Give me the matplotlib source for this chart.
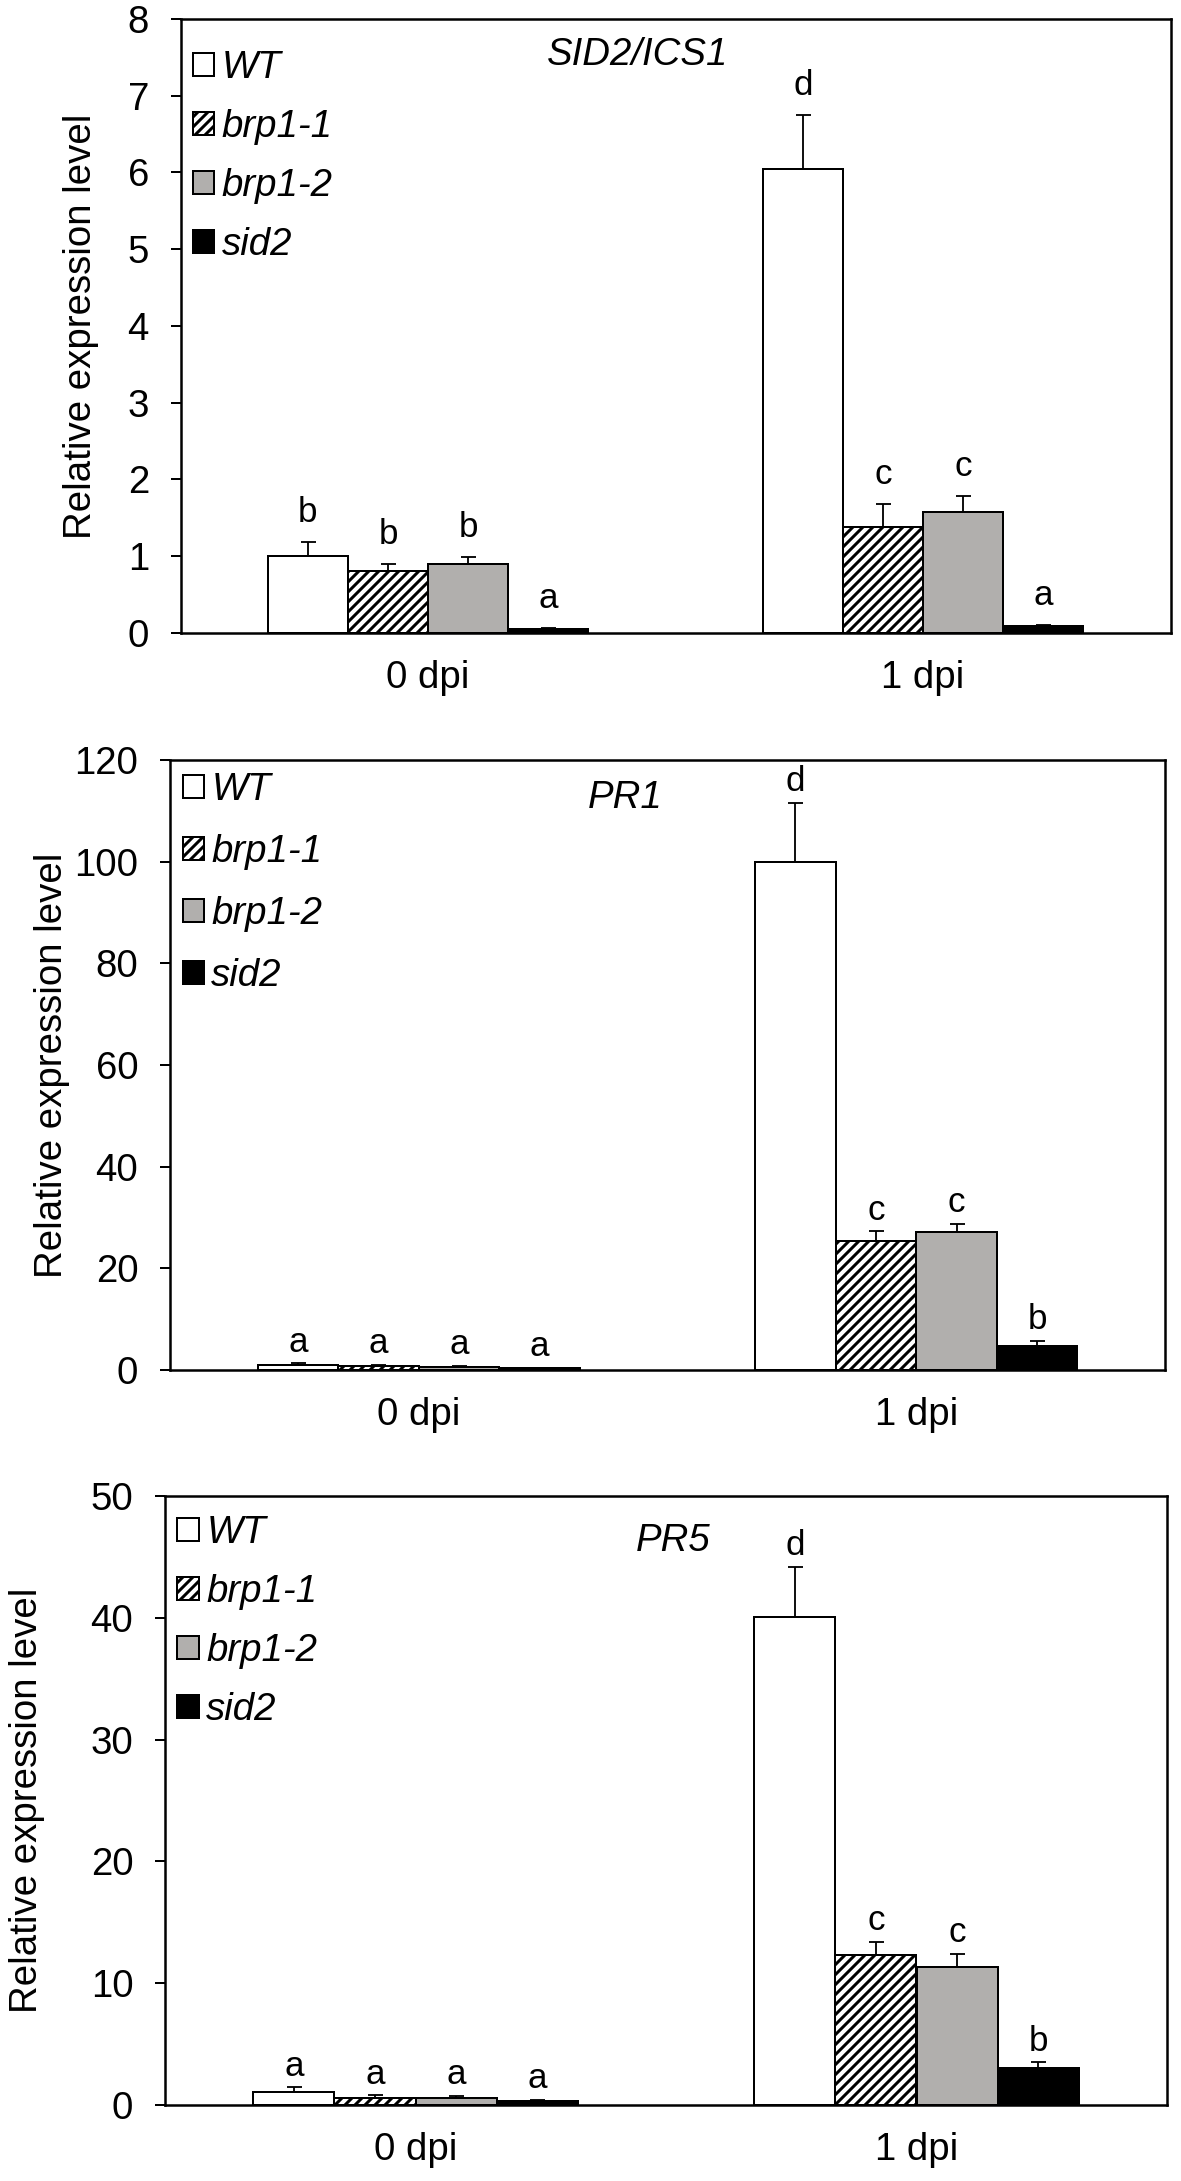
import matplotlib
matplotlib.use("Agg")
import matplotlib.pyplot as plt
import numpy as np

# genotypes and time points
genotypes = ["WT", "brp1-1", "brp1-2", "sid2"]
timepoints = ["0 dpi", "1 dpi"]

# values: rows = genotype, cols = time point
sid2_mean = [[1.0, 6.05], [0.81, 1.38], [0.90, 1.58], [0.05, 0.09]]
sid2_err = [[0.19, 0.70], [0.09, 0.30], [0.09, 0.20], [0.01, 0.01]]
sid2_letters = [["b", "d"], ["b", "c"], ["b", "c"], ["a", "a"]]

pr1_mean = [[1.0, 100.0], [0.8, 25.3], [0.5, 27.2], [0.3, 4.8]]
pr1_err = [[0.3, 11.6], [0.2, 2.0], [0.3, 1.5], [0.1, 0.9]]
pr1_letters = [["a", "d"], ["a", "c"], ["a", "c"], ["a", "b"]]

pr5_mean = [[1.05, 40.1], [0.6, 12.3], [0.55, 11.35], [0.3, 3.05]]
pr5_err = [[0.4, 4.1], [0.2, 1.1], [0.2, 1.05], [0.1, 0.45]]
pr5_letters = [["a", "d"], ["a", "c"], ["a", "c"], ["a", "b"]]

# fill / hatch per genotype
fills = ["white", "white", "#b1afad", "black"]
hatches = [None, "////", None, None]

W, H, DPI = 1181, 2181, 120
plt.rcParams["font.family"] = ["Liberation Sans", "DejaVu Sans"]
plt.rcParams["hatch.linewidth"] = 1.8

fig = plt.figure(figsize=(W / DPI, H / DPI), dpi=DPI)

# panel boxes in pixels: left, right, top, bottom
panels = [
    dict(box=(180.6, 1170.6, 19, 633), mean=sid2_mean, err=sid2_err, letters=sid2_letters,
         title="SID2/ICS1", title_xy=(0.4615, 0.941), ymax=8, ystep=1,
         ylab_x=99, leg_top=31, leg_sp=0.6, gap=12),
    dict(box=(170, 1165, 760, 1370), mean=pr1_mean, err=pr1_err, letters=pr1_letters,
         title="PR1", title_xy=(0.457, 0.938), ymax=120, ystep=20,
         ylab_x=70, leg_top=12, leg_sp=0.68, gap=7),
    dict(box=(165, 1167, 1496, 2105), mean=pr5_mean, err=pr5_err, letters=pr5_letters,
         title="PR5", title_xy=(0.507, 0.926), ymax=50, ystep=10,
         ylab_x=45, leg_top=19, leg_sp=0.6, gap=7),
]

bar_w = 0.162
x = np.arange(len(timepoints))

for p in panels:
    l, r, t, b = p["box"]
    ax = fig.add_axes([l / W, 1 - b / H, (r - l) / W, (b - t) / H])
    mean = np.array(p["mean"])
    err = np.array(p["err"])
    handles = []
    for i, g in enumerate(genotypes):
        xs = x + (i - 1.5) * bar_w
        bars = ax.bar(xs, mean[i], width=bar_w, color=fills[i], edgecolor="black",
                      linewidth=1.2, hatch=hatches[i], label=g, zorder=2)
        ax.errorbar(xs, mean[i], yerr=[np.zeros_like(err[i]), err[i]], fmt="none",
                    ecolor="black", elinewidth=1.1, capsize=4.5, capthick=1.1, zorder=3)
        for xi, yi, ei, lt in zip(xs, mean[i], err[i], p["letters"][i]):
            ax.annotate(lt, (xi, yi + ei), xytext=(0, p["gap"]), textcoords="offset points",
                        ha="center", va="baseline", fontsize=21)
        handles.append(bars)

    ax.set_xlim(-0.5, 1.5)
    ax.set_ylim(0, p["ymax"])
    ax.set_yticks(np.arange(0, p["ymax"] + p["ystep"] / 2, p["ystep"]))
    ax.set_xticks(x)
    ax.set_xticklabels(timepoints)
    ax.tick_params(axis="y", direction="out", length=6, width=1.2, pad=13, labelsize=23)
    ax.tick_params(axis="x", length=0, pad=16, labelsize=23)
    for s in ax.spines.values():
        s.set_linewidth(1.5)

    ax.set_ylabel("Relative expression level", fontsize=23)
    ax.yaxis.set_label_coords((p["ylab_x"] - l) / (r - l), 0.5)

    ax.text(p["title_xy"][0], p["title_xy"][1], p["title"], transform=ax.transAxes,
            ha="center", va="center", fontsize=23, style="italic")

    ax.legend(handles=handles, loc="upper left",
              bbox_to_anchor=(12.5 / (r - l), 1 - p["leg_top"] / (b - t)),
              frameon=False, borderpad=0, borderaxespad=0,
              handlelength=0.55, handleheight=0.55, handletextpad=0.2,
              labelspacing=p["leg_sp"], prop={"style": "italic", "size": 23})

fig.savefig("out.png", dpi=DPI)
